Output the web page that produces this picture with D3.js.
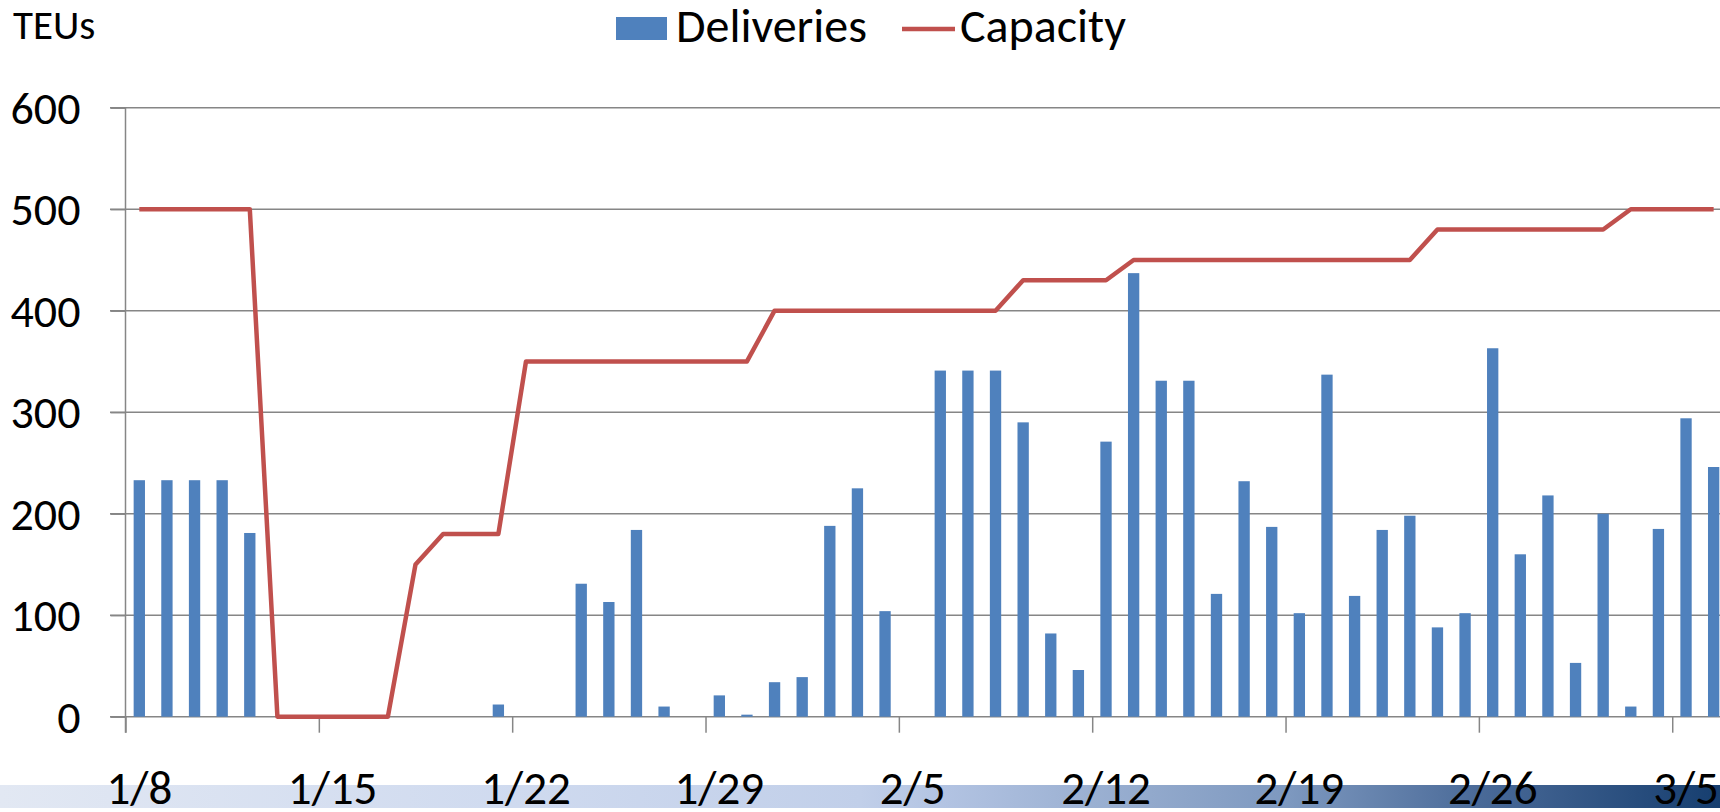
<!DOCTYPE html>
<html>
<head>
<meta charset="utf-8">
<script src="https://cdn.jsdelivr.net/npm/d3@7"></script>
<style>
	body { margin: 0; background: #ffffff; }
	svg { display: block; }
	svg text { font-family: Carlito, Calibri, Lato, sans-serif; }
</style>
</head>
<body>
<svg id="chart"></svg>
<script>
// ========== DATA ==========
var days = [
	'1/8', '1/9', '1/10', '1/11', '1/12', '1/13', '1/14',
	'1/15', '1/16', '1/17', '1/18', '1/19', '1/20', '1/21',
	'1/22', '1/23', '1/24', '1/25', '1/26', '1/27', '1/28',
	'1/29', '1/30', '1/31', '2/1', '2/2', '2/3', '2/4',
	'2/5', '2/6', '2/7', '2/8', '2/9', '2/10', '2/11',
	'2/12', '2/13', '2/14', '2/15', '2/16', '2/17', '2/18',
	'2/19', '2/20', '2/21', '2/22', '2/23', '2/24', '2/25',
	'2/26', '2/27', '2/28', '3/1', '3/2', '3/3', '3/4',
	'3/5', '3/6'
];
var deliveries = [
	233, 233, 233, 233, 181, 0, 0,
	0, 0, 0, 0, 0, 0, 12,
	0, 0, 131, 113, 184, 10, 0,
	21, 2, 34, 39, 188, 225, 104,
	0, 341, 341, 341, 290, 82, 46,
	271, 437, 331, 331, 121, 232, 187,
	102, 337, 119, 184, 198, 88, 102,
	363, 160, 218, 53, 200, 10, 185,
	294, 246
];
var capacity = [
	500, 500, 500, 500, 500, 0, 0,
	0, 0, 0, 150, 180, 180, 180,
	350, 350, 350, 350, 350, 350, 350,
	350, 350, 400, 400, 400, 400, 400,
	400, 400, 400, 400, 430, 430, 430,
	430, 450, 450, 450, 450, 450, 450,
	450, 450, 450, 450, 450, 480, 480,
	480, 480, 480, 480, 480, 500, 500,
	500, 500
];
var tickDays = ['1/8', '1/15', '1/22', '1/29', '2/5', '2/12', '2/19', '2/26', '3/5'];
var yTicks = [0, 100, 200, 300, 400, 500, 600];

// ========== CONSTANTS ==========
var plotWidth = 1720;
var plotHeight = 812;
var left = 125.5;
var step = 27.62;
var text_color = '#000000';
var grid_color = '#868686';
var bar_color = '#4f81bd';
var line_color = '#c0504d';
var font = 'Carlito, Calibri, Lato, sans-serif';

var svg = d3.select('#chart')
	.attr('width', plotWidth)
	.attr('height', plotHeight);

var x = d3.scaleBand()
	.domain(days)
	.range([left, left + step * days.length]);
var xi = d3.scaleLinear()
	.domain([0, days.length])
	.range([left, left + step * days.length]);
var y = d3.scaleLinear()
	.domain([0, 600])
	.range([716.7, 107.7]);

var barWidth = x.bandwidth() * 0.41;

// label band under the category axis
var grad = svg.append('defs').append('linearGradient')
	.attr('id', 'band')
	.attr('x1', '0%').attr('x2', '100%')
	.attr('y1', '0%').attr('y2', '0%');
[
	[0, '#e2e8f3'], [0.3, '#cfdaef'], [0.5, '#c1cfe9'], [0.55, '#b2c3e2'],
	[0.65, '#97adcf'], [0.75, '#7d98bf'], [0.86, '#4a6a98'], [1, '#163e6f']
].forEach(function(s) {
	grad.append('stop').attr('offset', s[0]).attr('stop-color', s[1]);
});
svg.append('rect')
	.attr('x', 0)
	.attr('y', 785)
	.attr('width', plotWidth)
	.attr('height', 23)
	.attr('fill', 'url(#band)');

// gridlines
svg.selectAll('.grid')
	.data(yTicks).enter().append('line')
		.attr('class', 'grid')
		.attr('x1', 110)
		.attr('x2', plotWidth)
		.attr('y1', function(d) { return y(d); })
		.attr('y2', function(d) { return y(d); })
		.attr('stroke', grid_color)
		.attr('stroke-width', 1.5);

// y axis
var yAxis = svg.append('g')
	.attr('transform', 'translate(' + left + ',0)')
	.call(d3.axisLeft(y).tickValues(yTicks).tickSize(15).tickPadding(30));
yAxis.attr('font-family', font).attr('font-size', 46);
yAxis.select('.domain').remove();
yAxis.selectAll('line').attr('stroke', grid_color).attr('stroke-width', 1.5);
yAxis.selectAll('text')
	.attr('fill', text_color)
	.attr('dy', '0.34em');
svg.append('line')
	.attr('x1', left).attr('x2', left)
	.attr('y1', y(600)).attr('y2', y(0) + 16)
	.attr('stroke', grid_color)
	.attr('stroke-width', 1.5);

// x axis ticks sit on category boundaries
var xAxis = svg.append('g')
	.attr('transform', 'translate(0,' + y(0) + ')')
	.call(d3.axisBottom(xi)
		.tickValues(tickDays.map(function(d) { return days.indexOf(d); }))
		.tickSize(16)
		.tickFormat(''));
xAxis.select('.domain').remove();
xAxis.selectAll('line').attr('stroke', grid_color).attr('stroke-width', 1.5);

svg.selectAll('.xlabel')
	.data(tickDays).enter().append('text')
		.attr('class', 'xlabel')
		.attr('x', function(d) { return x(d) + x.bandwidth() / 2; })
		.attr('y', 804)
		.attr('text-anchor', 'middle')
		.attr('fill', text_color)
		.style('font-size', '47px')
		.text(function(d) { return d; });

// bars
svg.selectAll('.bar')
	.data(deliveries).enter().append('rect')
		.attr('class', 'bar')
		.attr('x', function(d, i) { return x(days[i]) + (x.bandwidth() - barWidth) / 2; })
		.attr('y', function(d) { return y(d); })
		.attr('width', barWidth)
		.attr('height', function(d) { return y(0) - y(d); })
		.attr('fill', bar_color);

// capacity line
var line = d3.line()
	.x(function(d, i) { return x(days[i]) + x.bandwidth() / 2; })
	.y(function(d) { return y(d); });
svg.append('path')
	.datum(capacity)
	.attr('d', line)
	.attr('fill', 'none')
	.attr('stroke', line_color)
	.attr('stroke-width', 4.5)
	.attr('stroke-linejoin', 'round');

// axis title
svg.append('text')
	.attr('x', 13)
	.attr('y', 39)
	.attr('fill', text_color)
	.style('font-size', '41px')
	.text('TEUs');

// legend
var legend = svg.append('g');
legend.append('rect')
	.attr('x', 616)
	.attr('y', 17)
	.attr('width', 51)
	.attr('height', 23)
	.attr('fill', bar_color);
legend.append('text')
	.attr('x', 676)
	.attr('y', 42)
	.attr('fill', text_color)
	.style('font-size', '48px')
	.text('Deliveries');
legend.append('line')
	.attr('x1', 902).attr('x2', 955)
	.attr('y1', 29).attr('y2', 29)
	.attr('stroke', line_color)
	.attr('stroke-width', 4.5);
legend.append('text')
	.attr('x', 960)
	.attr('y', 42)
	.attr('fill', text_color)
	.style('font-size', '48px')
	.text('Capacity');
</script>
</body>
</html>
